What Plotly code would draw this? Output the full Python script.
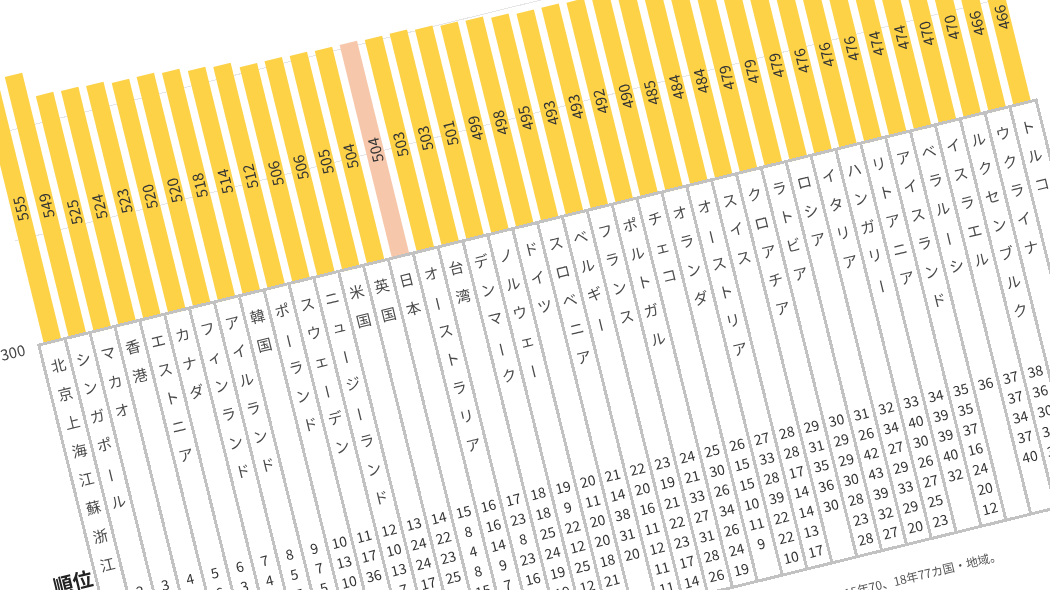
import plotly.graph_objects as go
from plotly.subplots import make_subplots

# PISA読解力 得点と順位（2018年の上位40カ国・地域）
countries = ["北京上海江蘇浙江", "シンガポール", "マカオ", "香港", "エストニア", "カナダ",
             "フィンランド", "アイルランド", "韓国", "ポーランド", "スウェーデン",
             "ニュージーランド", "米国", "英国", "日本", "オーストラリア", "台湾",
             "デンマーク", "ノルウェー", "ドイツ", "スロベニア", "ベルギー", "フランス",
             "ポルトガル", "チェコ", "オランダ", "オーストリア", "スイス", "クロアチア",
             "ラトビア", "ロシア", "イタリア", "ハンガリー", "リトアニア", "アイスランド",
             "ベラルーシ", "イスラエル", "ルクセンブルク", "ウクライナ", "トルコ"]
scores = [555, 549, 525, 524, 523, 520, 520, 518, 514, 512, 506, 506, 505, 504, 504,
          503, 503, 501, 499, 498, 495, 493, 493, 492, 490, 485, 484, 484, 479, 479,
          479, 476, 476, 476, 474, 474, 470, 470, 466, 466]
highlight = "日本"

N = None
rank_18 = [1, 2, 3, 4, 5, 6, 7, 8, 9, 10, 11, 12, 13, 14, 15, 16, 17, 18, 19, 20,
           21, 22, 23, 24, 25, 26, 27, 28, 29, 30, 31, 32, 33, 34, 35, 36, 37, 38, 39, 40]
rank_15 = [27, 1, 12, 2, 6, 3, 4, 5, 7, 13, 17, 10, 24, 22, 8, 16, 23, 18, 9, 11,
           14, 20, 19, 21, 30, 15, 33, 28, 31, 29, 26, 34, 40, 39, 35, N, 37, 36, N, 50]
rank_12 = [1, 3, 20, 2, 11, 8, 6, 7, 5, 10, 36, 13, 24, 23, 4, 14, 8, 25, 22, 20,
           38, 16, 21, 33, 26, 15, 28, 17, 35, 29, 42, 27, 30, 39, 37, N, 34, 30, N, 41]
rank_09 = [1, 5, 29, 4, 13, 6, 3, 21, 2, 15, 19, 7, 17, 25, 8, 9, 23, 24, 12, 20,
           31, 11, 22, 27, 34, 10, 39, 14, 36, 30, 43, 29, 26, 40, 16, N, 37, 39, N, 41]
rank_06 = [N, N, 25, 3, 13, 4, 2, 6, 1, 9, 7, 5, N, 17, 15, 7, 16, 19, 25, 18,
           20, 12, 23, 31, 26, 11, 22, 14, 30, 28, 39, 33, 27, 32, 24, N, 40, 31, N, 37]
rank_03 = [N, N, 20, 10, N, 3, 1, 7, 2, 16, 7, 6, 18, N, 14, 4, N, 19, 12, 21,
           N, 11, 17, 28, 24, 9, 22, 13, N, 23, 32, 29, 25, N, 20, N, N, 27, N, 33]
rank_00 = [N, N, N, 6, N, 2, 1, 5, 7, 24, 9, 3, 15, 7, 8, 4, N, 16, 13, 22,
           N, 11, 14, 26, 19, N, 10, 17, N, 28, 27, 20, 23, N, 12, N, N, 30, N, N]
rank_rows = [rank_18, rank_15, rank_12, rank_09, rank_06, rank_03, rank_00]

footnote = "注：参加国・地域数は2000年32、03年41、06年57、09年65、12年65、15年70、18年77カ国・地域。"

FONT = "Noto Sans CJK JP, Noto Sans, sans-serif"
YELLOW = "#FDD247"
PEACH = "#F6C7AA"
LINE = "#C2C2C2"

BAR_PX = 327      # height of the score panel (300-600)
TABLE_PX = 400    # height of the table panel
NAME_TOP, NAME_STEP = 25, 29.5
RANK_TOP, RANK_STEP = 265, 20.5

fig = make_subplots(rows=2, cols=1, shared_xaxes=True, vertical_spacing=0,
                    row_heights=[BAR_PX, TABLE_PX])

colors = [PEACH if c == highlight else YELLOW for c in countries]
fig.add_trace(go.Bar(
    x=countries, y=[s - 300 for s in scores], base=300,
    marker=dict(color=colors, line=dict(width=0)),
    text=[str(s) for s in scores], textposition="inside", insidetextanchor="middle",
    textangle=-90, textfont=dict(family=FONT, size=15, color="#333333"),
    hoverinfo="skip", showlegend=False), row=1, col=1)

# country names written vertically, one character per line
nx, ny, nt = [], [], []
dashes = []
for c in countries:
    for k, ch in enumerate(c):
        yy = NAME_TOP + k * NAME_STEP
        if ch == "ー":
            dashes.append((c, yy))
        else:
            nx.append(c)
            ny.append(yy)
            nt.append(ch)
fig.add_trace(go.Scatter(x=nx, y=ny, text=nt, mode="text", cliponaxis=False,
                         textfont=dict(family=FONT, size=15, color="#4a4a4a"),
                         hoverinfo="skip", showlegend=False), row=2, col=1)
for c, yy in dashes:
    fig.add_annotation(x=c, y=yy, xref="x2", yref="y2", text="ー", textangle=90,
                       showarrow=False, font=dict(family=FONT, size=15, color="#4a4a4a"))

# ranks, one row per survey year (18, 15, 12, 09, 06, 03, 00)
for r, row in enumerate(rank_rows):
    xs = [c for c, v in zip(countries, row) if v is not None]
    ts = [str(v) for v in row if v is not None]
    fig.add_trace(go.Scatter(x=xs, y=[RANK_TOP + r * RANK_STEP] * len(xs), text=ts,
                             mode="text", cliponaxis=False,
                             textfont=dict(family=FONT, size=14, color="#333333"),
                             hoverinfo="skip", showlegend=False), row=2, col=1)

fig.update_xaxes(type="category", categoryorder="array", categoryarray=countries,
                 range=[-0.5, len(countries) - 0.5], autorange=False,
                 showticklabels=False, ticks="", zeroline=False)
fig.update_xaxes(showgrid=False, showline=False, row=1, col=1)
fig.update_xaxes(tickson="boundaries", showgrid=True, gridcolor=LINE, gridwidth=2.5,
                 showline=True, linecolor=LINE, linewidth=2.5, mirror=True, row=2, col=1)
fig.update_yaxes(range=[300, 600], tickvals=[300, 400, 500, 600], showgrid=True,
                 gridcolor="#E6E6E6", gridwidth=1, zeroline=False, ticks="outside",
                 ticklen=12, tickcolor="rgba(0,0,0,0)",
                 tickfont=dict(family=FONT, size=15, color="#444444"), row=1, col=1)
fig.update_yaxes(range=[TABLE_PX, 0], showgrid=False, showticklabels=False, ticks="",
                 zeroline=False, showline=True, linecolor=LINE, linewidth=2.5,
                 mirror=True, row=2, col=1)

fig.add_annotation(text="<b>順位</b>", xref="paper", yref="paper",
                   x=-25 / 1024, y=(TABLE_PX - 238) / (BAR_PX + TABLE_PX),
                   xanchor="center", yanchor="middle",
                   showarrow=False, font=dict(family=FONT, size=20, color="#222222"))
fig.add_annotation(text=footnote, xref="paper", yref="paper",
                   xanchor="right", yanchor="middle",
                   x=885 / 1024, y=-(434 - TABLE_PX) / (BAR_PX + TABLE_PX),
                   showarrow=False, font=dict(family=FONT, size=12, color="#555555"))

fig.update_layout(width=1114, height=20 + BAR_PX + TABLE_PX + 60,
                  margin=dict(l=70, r=20, t=20, b=60), bargap=0.3,
                  plot_bgcolor="white", paper_bgcolor="white",
                  uniformtext=dict(minsize=15, mode="show"),
                  font=dict(family=FONT))

# the reference picture is tilted about 13.8 degrees
tilt = """
var gd = document.getElementById('{plot_id}');
document.documentElement.style.overflow = 'hidden';
document.body.style.margin = '0';
document.body.style.overflow = 'hidden';
var box = gd.parentElement;
box.style.position = 'fixed';
box.style.left = '0px';
box.style.top = '0px';
box.style.width = '1050px';
box.style.height = '590px';
box.style.overflow = 'hidden';
gd.style.position = 'absolute';
gd.style.left = '0px';
gd.style.top = '0px';
gd.style.transformOrigin = '0 0';
gd.style.transform = 'translate(-110.7px, 23.7px) rotate(-13.8deg)';
"""
fig.write_html("out.html", post_script=tilt, config={"displayModeBar": False})
